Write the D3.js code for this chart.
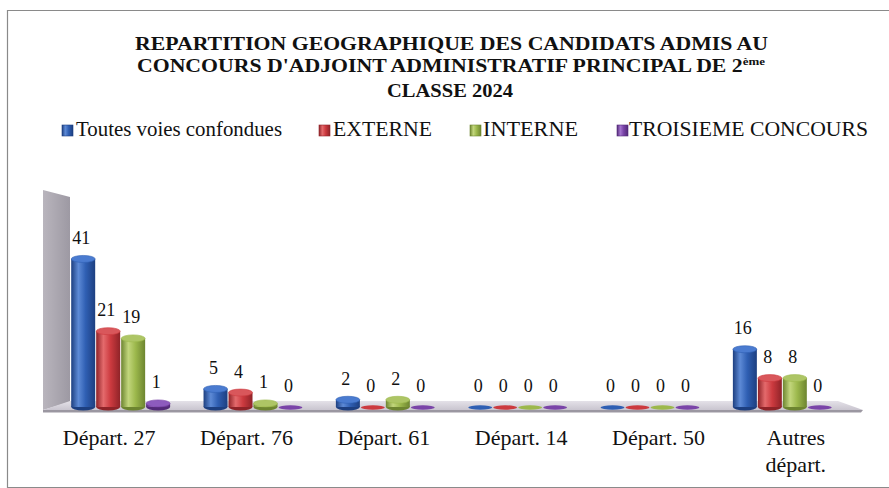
<!DOCTYPE html>
<html><head><meta charset="utf-8">
<script src="https://cdn.jsdelivr.net/npm/d3@7"></script>
<style>
html,body{margin:0;padding:0;background:#fff;}
svg{display:block;}
</style></head>
<body>
<svg id="c" width="889" height="488"></svg>
<script>
// ---- data ----
const categories = ["Départ. 27","Départ. 76","Départ. 61","Départ. 14","Départ. 50","Autres départ."];
const tickLines = [["Départ. 27"],["Départ. 76"],["Départ. 61"],["Départ. 14"],["Départ. 50"],["Autres","départ."]];
const seriesNames = ["Toutes voies confondues","EXTERNE","INTERNE","TROISIEME CONCOURS"];
const toutes = [41,5,2,0,0,16];
const externe = [21,4,0,0,0,8];
const interne = [19,1,2,0,0,8];
const troisieme = [1,0,0,0,0,0];
const seriesValues = [toutes, externe, interne, troisieme];
const titleLines = ["REPARTITION GEOGRAPHIQUE DES CANDIDATS  ADMIS AU","CONCOURS D'ADJOINT ADMINISTRATIF PRINCIPAL DE 2","CLASSE 2024"];
const titleSup = "ème";

// ---- styles ----
const FONT = "Liberation Serif";
const colors = [
  {base:"#2f5fb3", dark:"#1d3f80", light:"#5d8ad6", top:"#4a7bd0"},
  {base:"#cc3a3f", dark:"#8f2328", light:"#e46a6c", top:"#d9575b"},
  {base:"#9cb84c", dark:"#6d8530", light:"#c2d67c", top:"#adc565"},
  {base:"#7a44a8", dark:"#532a78", light:"#a575cf", top:"#8d5bbd"}
];

const svg = d3.select("#c").attr("font-family",FONT);
const defs = svg.append("defs");
colors.forEach((c,i)=>{
  const g = defs.append("linearGradient").attr("id","cyl"+i).attr("x1","0").attr("x2","1").attr("y1","0").attr("y2","0");
  g.append("stop").attr("offset","0%").attr("stop-color",c.dark);
  g.append("stop").attr("offset","30%").attr("stop-color",c.light);
  g.append("stop").attr("offset","60%").attr("stop-color",c.base);
  g.append("stop").attr("offset","100%").attr("stop-color",c.dark);
});
const wg = defs.append("linearGradient").attr("id","wall").attr("x1","0").attr("x2","1");
wg.append("stop").attr("offset","0%").attr("stop-color","#b9b5bd");
wg.append("stop").attr("offset","100%").attr("stop-color","#9d99a3");
const fg = defs.append("linearGradient").attr("id","floor").attr("x1","0").attr("x2","0").attr("y1","0").attr("y2","1");
fg.append("stop").attr("offset","0%").attr("stop-color","#e4e1e8");
fg.append("stop").attr("offset","100%").attr("stop-color","#c9c5cf");

function txt(sel){ return sel.append("text").attr("font-family",FONT).attr("fill","#111"); }

// border
svg.append("path").attr("d","M889,10.5 H7.5 V487.5 H889").attr("fill","none").attr("stroke","#8a8a8a").attr("stroke-width",1.2);

// title
const tx = [135,137,387], tw=[633,628,126], ty=[50,72,97];
titleLines.forEach((t,i)=>{
  const el = txt(svg).attr("x",tx[i]).attr("y",ty[i]).attr("font-size",18.5).attr("font-weight","bold")
    .attr("textLength",tw[i]).attr("lengthAdjust","spacingAndGlyphs");
  el.append("tspan").text(t);
  if (i === 1) {
    el.append("tspan").attr("font-size",11).attr("dy",-7).text(titleSup);
  }
});

// legend
const legX = [62,319,470,617], legTextX=[76,333,483,629], legW=[206,99,95,239];
seriesNames.forEach((n,i)=>{
  svg.append("rect").attr("x",legX[i]).attr("y",125).attr("width",11).attr("height",11)
    .attr("fill","url(#cyl"+i+")").attr("stroke",colors[i].dark).attr("stroke-width",0.6);
  txt(svg).attr("x",legTextX[i]).attr("y",136).attr("font-size",20)
    .attr("textLength",legW[i]).attr("lengthAdjust","spacingAndGlyphs").text(n);
});

// scales
const y = d3.scaleLinear().domain([0,45]).range([407,244.5]);
const x0 = d3.scaleBand().domain(categories).range([55,849]).paddingInner(0.245).paddingOuter(0.1225);
const x1 = d3.scaleBand().domain(d3.range(seriesNames.length)).range([0,x0.bandwidth()]);
const xl = d3.scalePoint().domain(categories).range([40,864]).padding(0.5);

// back wall & floor
svg.append("polygon").attr("points","43,190 70,197 70,402 43,410").attr("fill","url(#wall)");
svg.append("polygon").attr("points","70,401 838,401 863,410 43,410").attr("fill","url(#floor)");
svg.append("polygon").attr("points","43,410 863,410 861,412.5 43,412.5").attr("fill","#9b97a1");

// bars (cylinders)
const ry = 3.5;
const groups = svg.append("g").selectAll("g").data(categories).join("g")
  .attr("transform",d=>`translate(${x0(d)},0)`);
groups.each(function(cat,ci){
  const g = d3.select(this);
  seriesValues.forEach((vals,si)=>{
    const v = vals[ci];
    const bx = x1(si), bw = x1.bandwidth()-1;
    const cx = bx + bw/2;
    const top = y(v), bot = y(0);
    if (v > 0) {
      g.append("ellipse").attr("cx",cx).attr("cy",bot).attr("rx",bw/2).attr("ry",ry).attr("fill",colors[si].dark);
      g.append("rect").attr("x",bx).attr("y",top).attr("width",bw).attr("height",bot-top).attr("fill","url(#cyl"+si+")");
      g.append("ellipse").attr("cx",cx).attr("cy",top).attr("rx",bw/2).attr("ry",ry).attr("fill",colors[si].top)
        .attr("stroke",colors[si].base).attr("stroke-width",0.6);
    } else {
      g.append("ellipse").attr("cx",cx).attr("cy",bot+0.5).attr("rx",bw/2).attr("ry",2.2).attr("fill",colors[si].base);
    }
    txt(g).attr("x",cx-2).attr("y",top-15).attr("text-anchor","middle").attr("font-size",18).text(v);
  });
});

// category axis
const axis = svg.append("g").attr("transform","translate(0,445)")
  .call(d3.axisBottom(xl).tickSize(0).tickPadding(0));
axis.attr("font-family",FONT);
axis.select(".domain").remove();
axis.selectAll(".tick text").each(function(d,i){
  const t = d3.select(this).attr("y",0).attr("dy",null).attr("font-size",22)
    .attr("fill","#111").attr("font-family",FONT).text(null);
  tickLines[i].forEach((ln,k)=>{
    t.append("tspan").attr("x",0).attr("dy",k===0?0:27).text(ln);
  });
});
</script>
</body></html>
